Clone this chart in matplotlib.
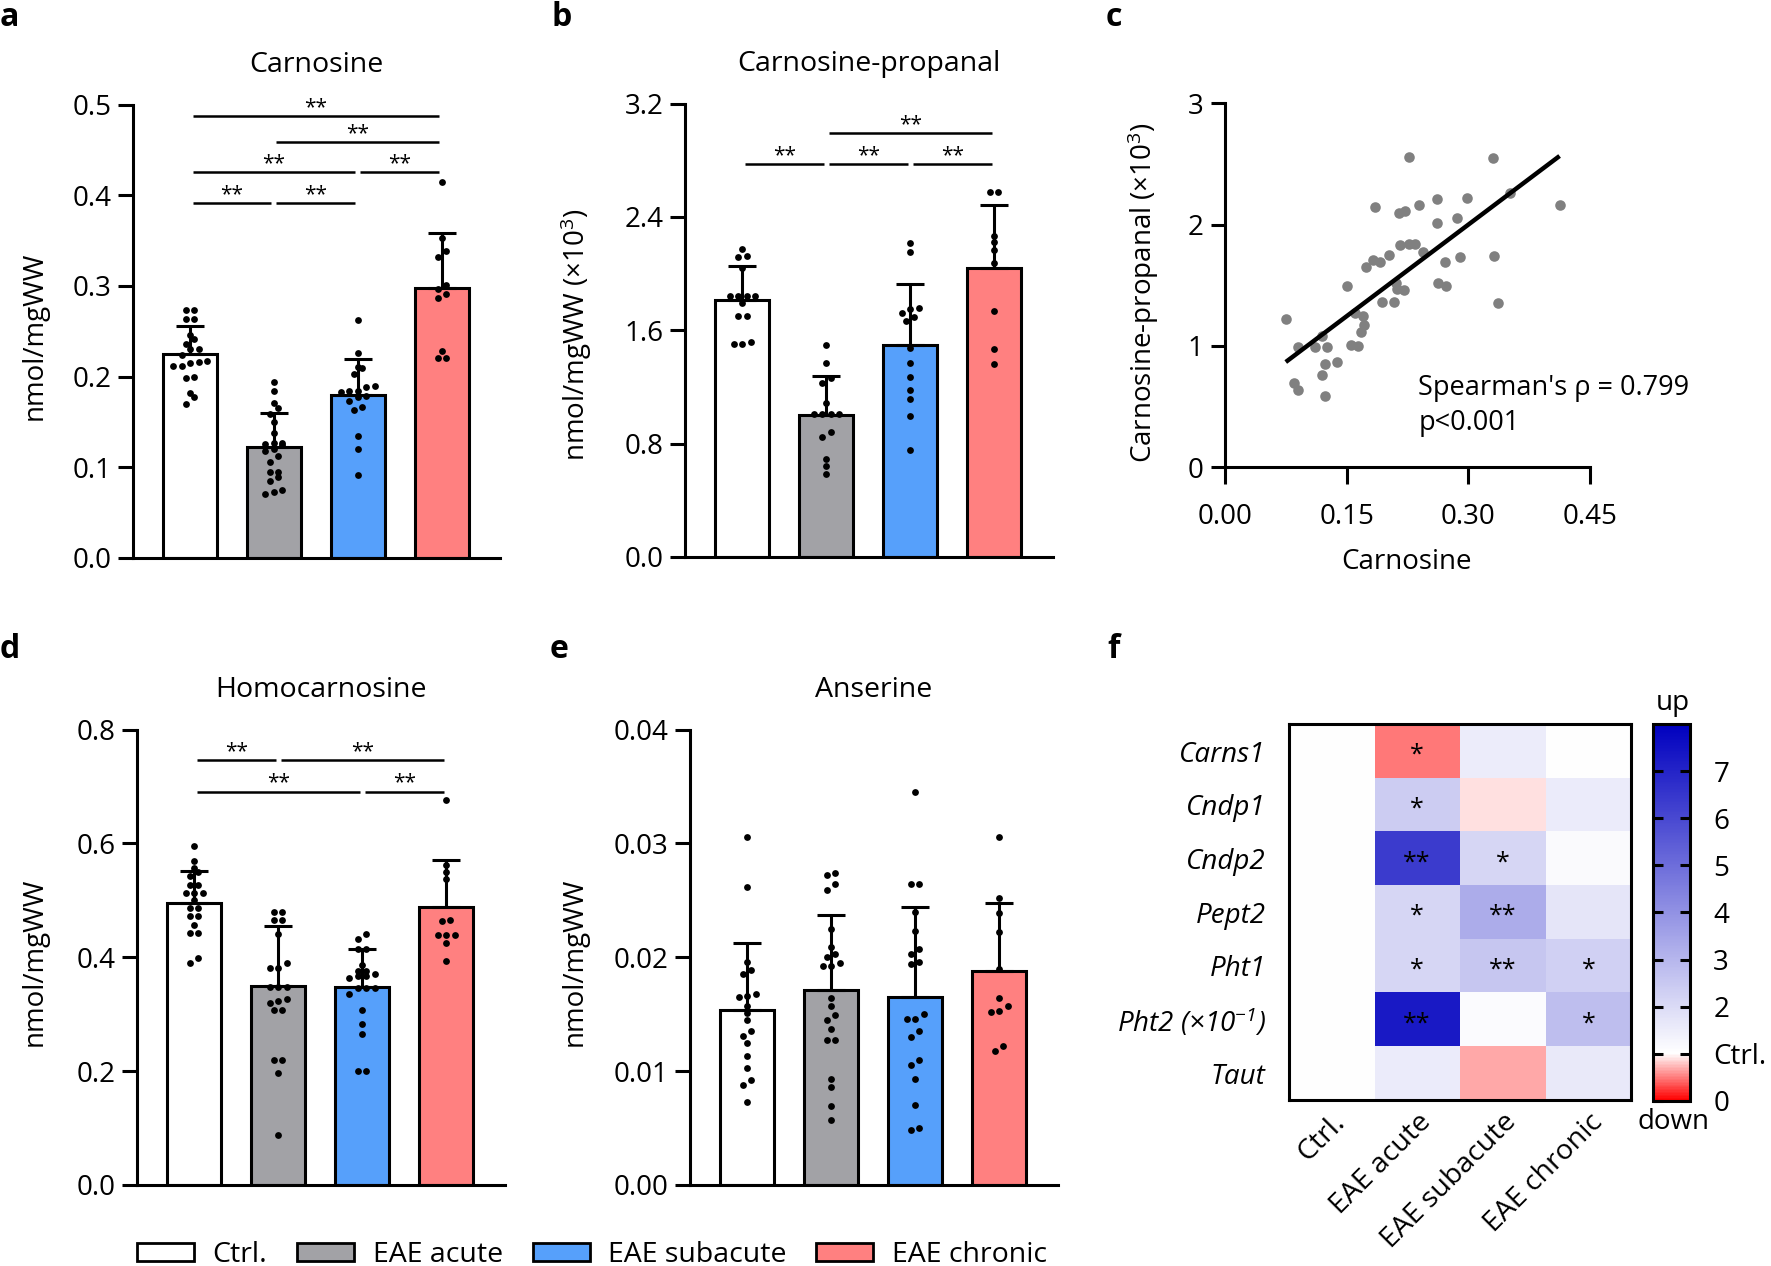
import numpy as np
import matplotlib
matplotlib.use('Agg')
import matplotlib.pyplot as plt
from matplotlib.colors import LinearSegmentedColormap, Normalize
from matplotlib.patches import Patch
import matplotlib.transforms as mtransforms
import matplotlib.cm as cm

plt.rcParams['font.family'] = ['Open Sans', 'DejaVu Sans']
plt.rcParams['mathtext.default'] = 'regular'

# ---------------- data ----------------
groups = ['Ctrl.', 'EAE acute', 'EAE subacute', 'EAE chronic']
bar_colors = ['#ffffff', '#a2a2a6', '#56a0fb', '#ff8080']

# a: Carnosine
carn_mean = [0.225, 0.122, 0.180, 0.298]
carn_sd = [0.0305, 0.038, 0.039, 0.061]
carn_ctrl = [0.274, 0.274, 0.264, 0.264, 0.246, 0.242, 0.236, 0.230, 0.230, 0.224,
             0.217, 0.215, 0.212, 0.212, 0.216, 0.200, 0.199, 0.182, 0.177, 0.170]
carn_acute = [0.194, 0.184, 0.171, 0.165, 0.159, 0.150, 0.138, 0.126, 0.127, 0.125, 0.127,
              0.120, 0.118, 0.112, 0.106, 0.095, 0.095, 0.089, 0.085, 0.075, 0.073, 0.071]
carn_sub = [0.263, 0.226, 0.211, 0.210, 0.203, 0.188, 0.190, 0.184, 0.183, 0.184, 0.179,
            0.177, 0.173, 0.167, 0.163, 0.134, 0.120, 0.091]
carn_chr = [0.415, 0.353, 0.339, 0.332, 0.301, 0.297, 0.291, 0.287, 0.228, 0.220, 0.221]
carn_sig = [(0, 3, 0.487), (1, 3, 0.459), (0, 2, 0.426), (2, 3, 0.426), (0, 1, 0.392), (1, 2, 0.392)]
carn_yticks = [0.0, 0.1, 0.2, 0.3, 0.4, 0.5]

# b: Carnosine-propanal (x10^3)
cp_mean = [1.810, 1.000, 1.497, 2.038]
cp_sd = [0.246, 0.275, 0.428, 0.449]
cp_ctrl = [2.173, 2.116, 2.121, 2.038, 1.842, 1.842, 1.842, 1.842, 1.789, 1.698, 1.698, 1.515, 1.502, 1.502]
cp_acute = [1.494, 1.366, 1.262, 1.228, 1.089, 1.006, 1.006, 1.006, 1.006, 0.880, 0.849, 0.692, 0.640, 0.588]
cp_sub = [2.215, 2.150, 1.758, 1.750, 1.724, 1.690, 1.664, 1.476, 1.366, 1.267, 1.176, 1.115, 0.993, 0.757]
cp_chr = [2.573, 2.573, 2.267, 2.220, 2.168, 2.071, 1.737, 1.468, 1.358]
cp_sig = [(1, 3, 2.99), (0, 1, 2.77), (1, 2, 2.77), (2, 3, 2.77)]
cp_yticks = [0.0, 0.8, 1.6, 2.4, 3.2]

# c: correlation
corr_x = [0.0749, 0.0904, 0.0851, 0.0899, 0.1113, 0.1193, 0.1257, 0.1231, 0.1193, 0.1236,
          0.1375, 0.1509, 0.1557, 0.1637, 0.1605, 0.1701, 0.1718, 0.1675, 0.1734, 0.1830,
          0.1851, 0.1916, 0.2023, 0.1932, 0.2087, 0.2108, 0.2119, 0.2210, 0.2146, 0.2221,
          0.2263, 0.2156, 0.2263, 0.2343, 0.2440, 0.2397, 0.2611, 0.2611, 0.2622, 0.2729,
          0.2718, 0.2863, 0.2895, 0.2986, 0.3306, 0.3312, 0.3371, 0.3510, 0.4125]
corr_y = [1.220, 0.994, 0.698, 0.635, 0.994, 1.082, 0.994, 0.849, 0.764, 0.585,
          0.871, 1.492, 1.008, 1.003, 1.269, 1.247, 1.170, 1.113, 1.654, 1.709,
          2.146, 1.695, 1.750, 1.365, 1.365, 1.516, 1.467, 1.462, 2.099, 2.115,
          2.560, 1.832, 1.838, 1.838, 1.777, 2.162, 2.212, 2.016, 1.516, 1.497,
          1.690, 2.058, 1.733, 2.217, 2.552, 1.739, 1.354, 2.258, 2.162]
fit_slope = 5.03
fit_intercept = 0.491
corr_xticks = [0.00, 0.15, 0.30, 0.45]
corr_yticks = [0, 1, 2, 3]

# d: Homocarnosine
hc_mean = [0.496, 0.349, 0.347, 0.488]
hc_sd = [0.056, 0.105, 0.068, 0.083]
hc_ctrl = [0.595, 0.569, 0.556, 0.550, 0.543, 0.526, 0.526, 0.513, 0.513, 0.513, 0.500,
           0.487, 0.487, 0.472, 0.472, 0.456, 0.443, 0.443, 0.399, 0.390]
hc_acute = [0.480, 0.480, 0.466, 0.466, 0.440, 0.389, 0.381, 0.381, 0.347, 0.347, 0.347,
            0.326, 0.323, 0.320, 0.307, 0.307, 0.220, 0.220, 0.196, 0.087]
hc_sub = [0.441, 0.432, 0.415, 0.415, 0.387, 0.376, 0.370, 0.367, 0.375, 0.367, 0.363,
          0.346, 0.346, 0.346, 0.336, 0.307, 0.282, 0.265, 0.200, 0.200]
hc_chr = [0.676, 0.562, 0.549, 0.537, 0.465, 0.463, 0.439, 0.439, 0.439, 0.425, 0.394]
hc_sig = [(0, 1, 0.746), (1, 3, 0.746), (0, 2, 0.691), (2, 3, 0.691)]
hc_yticks = [0.0, 0.2, 0.4, 0.6, 0.8]

# e: Anserine
an_mean = [0.0154, 0.0171, 0.0165, 0.0188]
an_sd = [0.00585, 0.0066, 0.0079, 0.0060]
an_ctrl = [0.0306, 0.0262, 0.0196, 0.0189, 0.0185, 0.0168, 0.0165, 0.0166, 0.0157, 0.0151,
           0.0145, 0.0135, 0.0131, 0.0125, 0.0113, 0.0103, 0.0092, 0.0088, 0.0073]
an_acute = [0.0274, 0.0272, 0.0264, 0.0259, 0.0225, 0.0209, 0.0203, 0.0200, 0.0192, 0.0195,
            0.0192, 0.0164, 0.0157, 0.0149, 0.0145, 0.0137, 0.0127, 0.0127, 0.0093, 0.0086,
            0.0069, 0.0057]
an_sub = [0.0345, 0.0264, 0.0264, 0.0240, 0.0223, 0.0207, 0.0203, 0.0194, 0.0196, 0.0146,
          0.0146, 0.0150, 0.0135, 0.0130, 0.0110, 0.0105, 0.0093, 0.0070, 0.0048, 0.0050]
an_chr = [0.0306, 0.0252, 0.0239, 0.0222, 0.0190, 0.0164, 0.0153, 0.0152, 0.0157, 0.0118, 0.0122]
an_sig = []
an_yticks = [0.00, 0.01, 0.02, 0.03, 0.04]

# f: heatmap (fold change vs Ctrl = 1)
genes = ['Carns1', 'Cndp1', 'Cndp2', 'Pept2', 'Pht1', 'Pht2 (×10$^{-1}$)', 'Taut']
fold = [[1.0, 0.47, 1.50, 1.00],
        [1.0, 2.40, 0.875, 1.55],
        [1.0, 6.35, 2.10, 1.15],
        [1.0, 2.10, 3.25, 1.70],
        [1.0, 2.10, 2.55, 2.30],
        [1.0, 7.30, 1.12, 2.75],
        [1.0, 1.55, 0.67, 1.60]]
fold_sig = [['', '*', '', ''],
            ['', '*', '', ''],
            ['', '**', '*', ''],
            ['', '*', '**', ''],
            ['', '*', '**', '*'],
            ['', '**', '', '*'],
            ['', '', '', '']]
cbar_ticks = [0, 1, 2, 3, 4, 5, 6, 7]
cbar_labels = ['0', 'Ctrl.', '2', '3', '4', '5', '6', '7']

# ---------------- layout ----------------
W, H = 1771, 1266
fig = plt.figure(figsize=(W / 100, H / 100), dpi=100)


def rect(l, t, r, b):
    return [l / W, 1 - b / H, (r - l) / W, (b - t) / H]


XL = (-0.68, 3.70)
TICK_FS = 20
TITLE_FS = 20.5
LABEL_FS = 20


def swarm_offsets(vals, ppu_y, ppu_x, dot_px=8.5, row_px=6.5):
    vals = np.asarray(vals, dtype=float)
    order = np.argsort(vals)
    offs = np.zeros(len(vals))
    rows, cur = [], [order[0]]
    for idx in order[1:]:
        if (vals[idx] - vals[cur[0]]) * ppu_y < row_px:
            cur.append(idx)
        else:
            rows.append(cur)
            cur = [idx]
    rows.append(cur)
    for r in rows:
        n = len(r)
        for k, idx in enumerate(r):
            offs[idx] = (k - (n - 1) / 2) * dot_px / ppu_x
    return offs


def bar_panel(ax, means, sds, pts, yticks, fmt, title, ylabel, sig, ylab_x):
    x = np.arange(len(groups))
    ymax = yticks[-1]
    ax.bar(x, means, width=0.64, color=bar_colors, edgecolor='black', linewidth=2.2, zorder=2)
    ax.errorbar(x, means, yerr=[np.zeros(len(means)), sds], fmt='none', ecolor='black',
                elinewidth=2.2, capsize=10, capthick=2.2, zorder=3)
    ax.set_xlim(*XL)
    ax.set_ylim(0, ymax)
    pos = ax.get_position()
    wpx, hpx = pos.width * W, pos.height * H
    for i, vals in enumerate(pts):
        off = swarm_offsets(vals, hpx / ymax, wpx / (XL[1] - XL[0]))
        ax.scatter(i + off, vals, s=24, color='black', zorder=4, linewidths=0, clip_on=False)
    ax.set_yticks(yticks)
    ax.set_yticklabels([fmt.format(t) for t in yticks])
    ax.set_xticks([])
    for s in ['top', 'right']:
        ax.spines[s].set_visible(False)
    for s in ['left', 'bottom']:
        ax.spines[s].set_linewidth(2.2)
    ax.tick_params(axis='y', length=10.5, width=2.2, pad=5, labelsize=TICK_FS)
    ax.set_title(title, fontsize=TITLE_FS, pad=23.5)
    ax.text(ylab_x, 0.49, ylabel, transform=ax.transAxes, rotation=90,
            ha='center', va='center', fontsize=LABEL_FS)
    for (i, j, h) in sig:
        ax.plot([i + 0.03, j - 0.03], [h, h], color='black', lw=1.8,
                solid_capstyle='butt', clip_on=False, zorder=5)
        ax.annotate('**', xy=((i + j) / 2, h), xytext=(0, 6), textcoords='offset points',
                    ha='center', va='center', fontsize=15)


axa = fig.add_axes(rect(133, 104.7, 500.5, 557.9))
bar_panel(axa, carn_mean, carn_sd, [carn_ctrl, carn_acute, carn_sub, carn_chr],
          carn_yticks, '{:.1f}', 'Carnosine', 'nmol/mgWW', carn_sig, -0.267)

axb = fig.add_axes(rect(685.2, 103.6, 1053, 556.8))
bar_panel(axb, cp_mean, cp_sd, [cp_ctrl, cp_acute, cp_sub, cp_chr],
          cp_yticks, '{:.1f}', 'Carnosine-propanal', 'nmol/mgWW (×10$^3$)', cp_sig, -0.295)

axd = fig.add_axes(rect(137, 729.5, 505, 1184.9))
bar_panel(axd, hc_mean, hc_sd, [hc_ctrl, hc_acute, hc_sub, hc_chr],
          hc_yticks, '{:.1f}', 'Homocarnosine', 'nmol/mgWW', hc_sig, -0.277)

axe = fig.add_axes(rect(690, 729.5, 1058, 1184.9))
bar_panel(axe, an_mean, an_sd, [an_ctrl, an_acute, an_sub, an_chr],
          an_yticks, '{:.2f}', 'Anserine', 'nmol/mgWW', an_sig, -0.3125)

# ---- c ----
axc = fig.add_axes(rect(1225, 103.3, 1590, 467.3))
axc.scatter(corr_x, corr_y, s=58, color='#808080', linewidths=0, zorder=2, clip_on=False)
xx = np.array([min(corr_x), max(corr_x)])
axc.plot(xx, fit_intercept + fit_slope * xx, color='black', lw=3.2, zorder=3,
         solid_capstyle='butt')
axc.set_xlim(0, 0.45)
axc.set_ylim(0, 3)
axc.set_xticks(corr_xticks)
axc.set_xticklabels(['{:.2f}'.format(t) for t in corr_xticks])
axc.set_yticks(corr_yticks)
axc.set_yticklabels([str(t) for t in corr_yticks])
for s in ['top', 'right']:
    axc.spines[s].set_visible(False)
for s in ['left', 'bottom']:
    axc.spines[s].set_linewidth(2.2)
axc.tick_params(axis='x', length=12, width=2.2, pad=14, labelsize=20)
axc.tick_params(axis='y', length=10, width=2.2, pad=5.5, labelsize=20)
axc.text(0.4975, -0.259, 'Carnosine', transform=axc.transAxes, ha='center', va='center',
         fontsize=LABEL_FS)
axc.text(-0.225, 0.481, 'Carnosine-propanal (×10$^3$)', transform=axc.transAxes,
         rotation=90, ha='center', va='center', fontsize=LABEL_FS)
axc.text(0.53, 0.217, "Spearman's ρ = 0.799", transform=axc.transAxes, ha='left',
         va='center', fontsize=19.5)
axc.text(0.53, 0.121, 'p<0.001', transform=axc.transAxes, ha='left',
         va='center', fontsize=19.5)

# ---- f ----
cmap = LinearSegmentedColormap.from_list(
    'rwb', [(0.0, '#ff0000'), (1 / 8, '#ffffff'), (1.0, '#0000bf')])
norm = Normalize(0, 8)
axf = fig.add_axes(rect(1288.6, 724.2, 1631.2, 1099.9))
axf.imshow(np.array(fold), cmap=cmap, norm=norm, aspect='auto', interpolation='nearest')
for r in range(len(genes)):
    for c in range(len(groups)):
        if fold_sig[r][c]:
            axf.text(c, r + 0.08, fold_sig[r][c], ha='center', va='center', fontsize=18)
axf.set_xlim(-0.5, 3.5)
axf.set_ylim(6.5, -0.5)
axf.set_xticks(range(len(groups)))
axf.set_xticklabels(groups, rotation=45, ha='right', va='top', rotation_mode='anchor',
                    fontsize=20.5)
shift = mtransforms.ScaledTranslation(0.12, 0, fig.dpi_scale_trans)
for lab in axf.get_xticklabels():
    lab.set_transform(lab.get_transform() + shift)
axf.set_yticks(range(len(genes)))
axf.set_yticklabels(genes, fontsize=20, style='italic')
axf.tick_params(axis='both', length=0)
axf.tick_params(axis='y', pad=16.5)
axf.tick_params(axis='x', pad=6)
for s in axf.spines.values():
    s.set_linewidth(2.2)

cax = fig.add_axes(rect(1652.9, 724.2, 1689.7, 1100.7))
sm = cm.ScalarMappable(norm=norm, cmap=cmap)
cb = fig.colorbar(sm, cax=cax, ticks=cbar_ticks)
cb.set_ticklabels(cbar_labels)
cb.outline.set_linewidth(2.2)
cax.tick_params(direction='in', length=7, width=2.2, left=True, right=True,
                labelsize=20, pad=17)
fig.text(1673.3 / W, 1 - 703 / H, 'up', ha='center', va='center', fontsize=20)
fig.text(1673.3 / W, 1 - 1122 / H, 'down', ha='center', va='center', fontsize=20)

# ---- panel labels ----
for lab, (px, py) in {'a': (0, 17), 'b': (551, 17), 'c': (1106, 17),
                      'd': (0, 649), 'e': (550, 649), 'f': (1107, 649)}.items():
    fig.text(px / W, 1 - py / H, lab, ha='left', va='center', fontsize=23, fontweight='bold')

# ---- legend ----
handles = [Patch(facecolor=c, edgecolor='black', linewidth=2) for c in bar_colors]
fig.legend(handles, groups, loc='center', bbox_to_anchor=(592 / W, 1 - 1255 / H), ncol=4,
           frameon=False, fontsize=20.5, handlelength=2.0,
           handleheight=0.62, handletextpad=0.65, columnspacing=1.05)

fig.savefig('out.png', dpi=100)
